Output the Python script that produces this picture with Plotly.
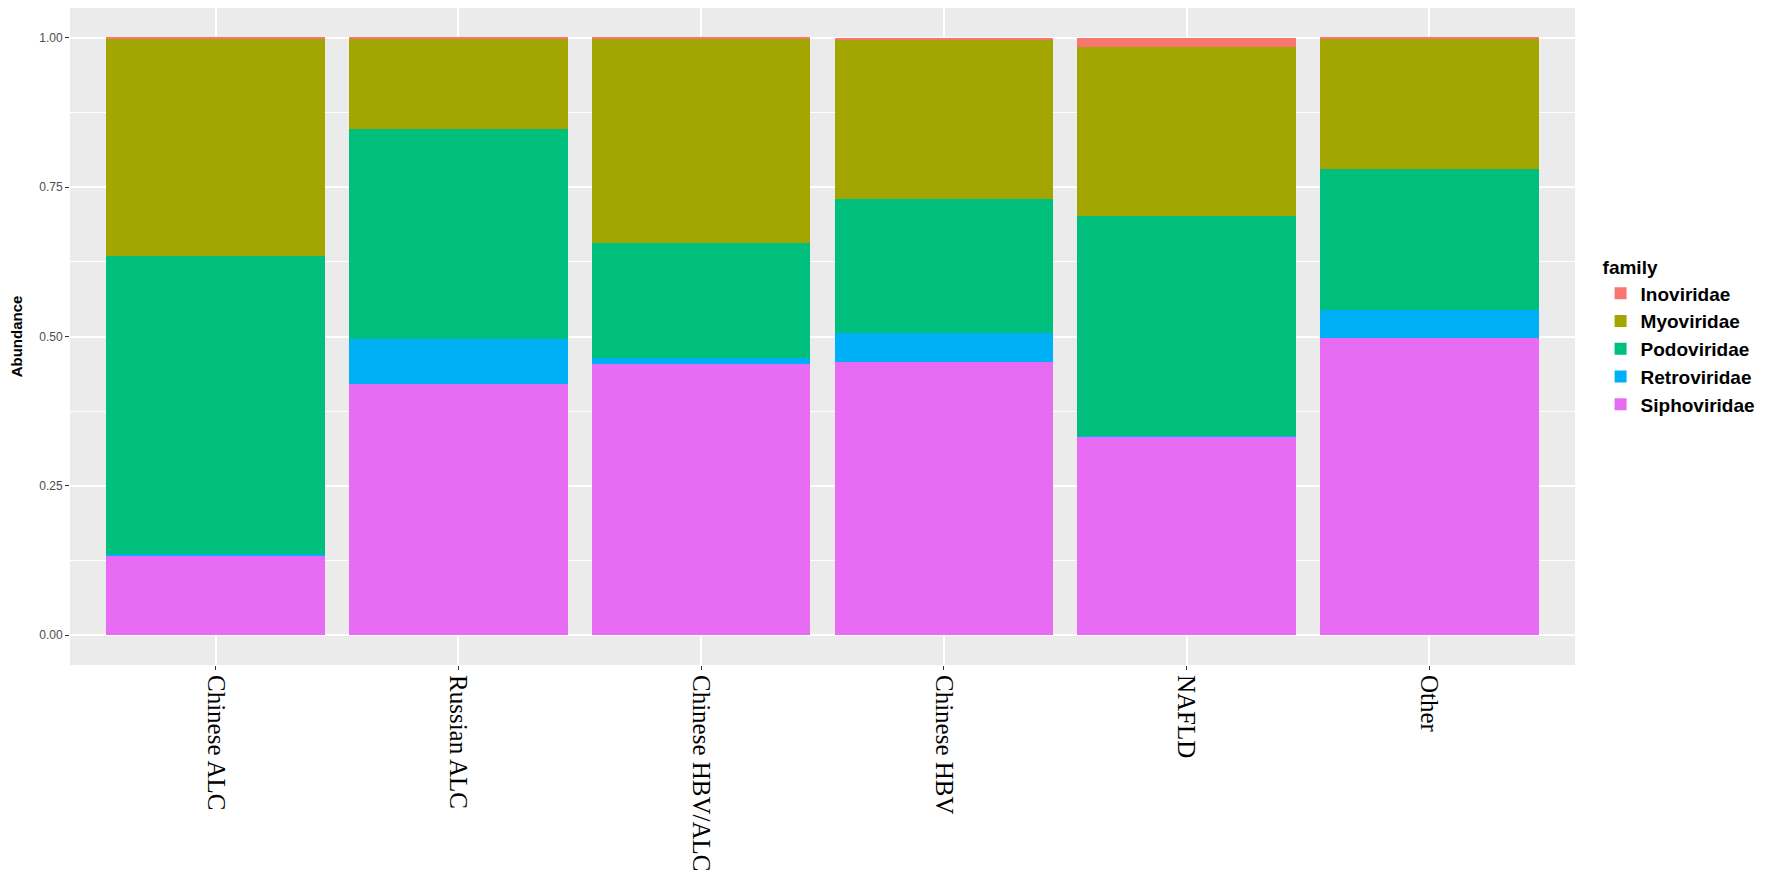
import plotly.graph_objects as go

# groups on the x axis
groups = ['Chinese ALC', 'Russian ALC', 'Chinese HBV/ALC', 'Chinese HBV', 'NAFLD', 'Other']

# relative abundance per family
inoviridae = [0.001, 0.001, 0.001, 0.004, 0.016, 0.001]
myoviridae = [0.364, 0.151, 0.343, 0.266, 0.283, 0.218]
podoviridae = [0.499, 0.353, 0.192, 0.224, 0.368, 0.237]
retroviridae = [0.003, 0.075, 0.010, 0.049, 0.001, 0.047]
siphoviridae = [0.133, 0.420, 0.454, 0.457, 0.332, 0.497]

y_ticks = [0, 0.25, 0.5, 0.75, 1.0]
y_ticklabels = ['0.00', '0.25', '0.50', '0.75', '1.00']

# ggplot default hue palette, bottom of the stack first
series = [
    ('Siphoviridae', siphoviridae, '#E76BF3'),
    ('Retroviridae', retroviridae, '#00B0F6'),
    ('Podoviridae', podoviridae, '#00BF7D'),
    ('Myoviridae', myoviridae, '#A3A500'),
    ('Inoviridae', inoviridae, '#F8766D'),
]

fig = go.Figure()
for name, vals, col in series:
    fig.add_trace(go.Bar(
        x=groups,
        y=vals,
        name=name,
        width=0.9,
        marker=dict(color=col, line=dict(width=0)),
    ))

# page has an 8px body margin, so the figure is 16px smaller than the window
fig.update_layout(
    width=1754,
    height=869,
    barmode='stack',
    plot_bgcolor='#EBEBEB',
    paper_bgcolor='white',
    margin=dict(l=62, r=187, t=0, b=212),
    font=dict(family='Liberation Sans, Arial', color='#4D4D4D'),
    legend=dict(
        title=dict(text='<b>family</b>', font=dict(size=19, color='black')),
        traceorder='reversed',
        x=1.017,
        xanchor='left',
        y=0.632,
        yanchor='top',
        font=dict(size=19, color='black', weight='bold'),
        bgcolor='white',
    ),
    xaxis=dict(
        range=[-0.6, 5.6],
        automargin=False,
        showgrid=True,
        gridcolor='white',
        gridwidth=2,
        ticks='outside',
        ticklen=4,
        tickcolor='#333333',
        tickangle=90,
        tickfont=dict(family='Liberation Serif, Times New Roman', size=25, color='black'),
        zeroline=False,
    ),
    yaxis=dict(
        range=[-0.05, 1.05],
        automargin=False,
        tickvals=y_ticks,
        ticktext=y_ticklabels,
        showgrid=True,
        gridcolor='white',
        gridwidth=2,
        minor=dict(dtick=0.125, tick0=0.125, showgrid=True, gridcolor='white', gridwidth=1),
        ticks='outside',
        ticklen=4,
        tickcolor='#333333',
        tickfont=dict(size=12, color='#4D4D4D'),
        zeroline=False,
        title=dict(text='<b>Abundance</b>', font=dict(size=15, color='black'), standoff=15),
    ),
)

fig.write_html("out.html")
